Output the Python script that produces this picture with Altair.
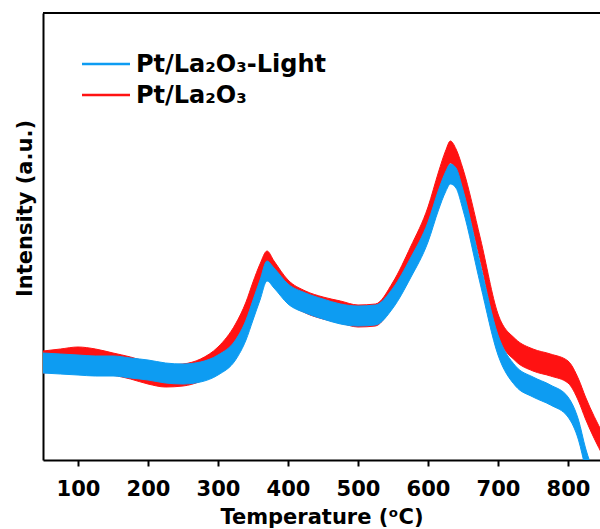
import altair as alt
import pandas as pd

# Temperature (°C) sample positions
temperature = [50, 75, 100, 125, 150, 175, 200, 225, 250, 275, 300, 325, 340, 350,
               360, 370, 380, 400, 425, 450, 475, 500, 525, 550, 575, 600, 615, 625,
               632, 640, 650, 675, 700, 725, 750, 775, 800, 815, 825, 850]

# Centre of each noisy trace (arbitrary intensity units)
light_center = [97, 96, 95, 94, 94, 92, 90, 87, 86, 88, 95, 110, 130, 150,
                170, 189, 182, 166, 157, 151, 146, 144, 145, 162, 192, 228, 260, 278,
                286, 282, 260, 185, 115, 84, 73, 65, 53, 30, 2, -40]
dark_center = [98, 100, 102, 100, 96, 92, 87, 84, 85, 90, 102, 125, 147, 167,
               185, 198, 188, 169, 158, 152, 148, 144, 145, 167, 202, 242, 277, 298,
               308, 300, 280, 210, 135, 110, 100, 95, 88, 70, 52, 15]

# Half-width of the noise band of each trace
light_spread = 10
dark_spread = 11

series_names = ["Pt/La₂O₃-Light", "Pt/La₂O₃"]
series_colors = ["#0d9cf2", "#ff1212"]

df_light = pd.DataFrame({
    "T": temperature,
    "lo": [c - light_spread for c in light_center],
    "hi": [c + light_spread for c in light_center],
    "series": series_names[0],
})
df_dark = pd.DataFrame({
    "T": temperature,
    "lo": [c - dark_spread for c in dark_center],
    "hi": [c + dark_spread for c in dark_center],
    "series": series_names[1],
})

FONT = "DejaVu Sans"
x_min, x_max = 50, 845.7
y_min, y_max = 0, 447

color_scale = alt.Scale(domain=series_names, range=series_colors)

x_axis = alt.Axis(
    title="Temperature (ᵒC)",
    values=list(range(100, 850, 50)),
    labelExpr="datum.value % 100 == 0 ? datum.label : ''",
    labelFont=FONT, labelFontSize=21, labelFontWeight="bold", labelColor="black",
    labelPadding=12, labelFlush=False, labelOverlap=False,
    titleFont=FONT, titleFontSize=21, titleFontWeight="bold", titleColor="black",
    titleBaseline="alphabetic", titleY=63,
    domainColor="black", domainWidth=2,
    tickColor="black", tickWidth=2, tickSize=6,
    grid=False,
)
y_axis = alt.Axis(
    title="Intensity (a.u.)",
    labels=False, ticks=False,
    titleFont=FONT, titleFontSize=21, titleFontWeight="bold", titleColor="black",
    titleX=-18, titleY=195, titleAngle=270, titleAlign="center", titleBaseline="middle",
    domainColor="black", domainWidth=2,
    grid=False,
)


def band(df):
    return alt.Chart(df).mark_area(clip=True, strokeWidth=1, interpolate="monotone").encode(
        x=alt.X("T:Q", scale=alt.Scale(domain=[x_min, x_max], nice=False, zero=False), axis=x_axis),
        y=alt.Y("hi:Q", scale=alt.Scale(domain=[y_min, y_max], nice=False, zero=False), axis=y_axis),
        y2="lo:Q",
        fill=alt.Fill("series:N", scale=color_scale, legend=None),
        stroke=alt.Stroke("series:N", scale=color_scale, legend=None),
    )


top_border = alt.Chart(pd.DataFrame({"a": [0]})).mark_rule(color="black", strokeWidth=2).encode(
    x=alt.datum(x_min), x2=alt.datum(x_max), y=alt.datum(y_max)
)

# Manual legend (line sample + label per series)
legend_layers = []
row_y = [51, 82]
for name, col, ry in zip(series_names, series_colors, row_y):
    one = pd.DataFrame({"series": [name]})
    legend_layers.append(
        alt.Chart(one).mark_rule(color=col, strokeWidth=2.5).encode(
            x=alt.value(39), x2=alt.value(87), y=alt.value(ry)
        )
    )
    legend_layers.append(
        alt.Chart(one).mark_text(
            align="left", baseline="middle", font=FONT, fontSize=24,
            fontWeight="bold", color="black"
        ).encode(x=alt.value(93), y=alt.value(ry + 1), text="series:N")
    )

chart = alt.layer(band(df_dark), band(df_light), top_border, *legend_layers).properties(
    width=557, height=447,
    autosize=alt.AutoSizeParams(type="none"),
    padding={"left": 43, "top": 13, "right": 0, "bottom": 69},
    background="white",
).configure_view(stroke=None)

chart.save("out.html", embed_options={"renderer": "svg", "actions": False})
